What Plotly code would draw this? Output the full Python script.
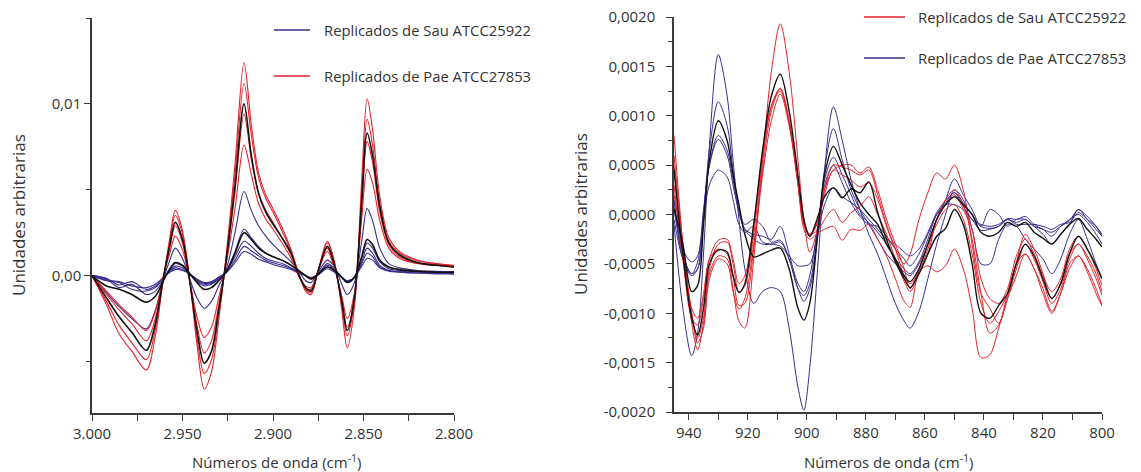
import plotly.graph_objects as go

# ---------------- left panel: 3000-2800 cm-1 (blue = Sau, red = Pae) ----------------
wn_left = [3000, 2992, 2985, 2978, 2970, 2965, 2961, 2957, 2954, 2950, 2946, 2942, 2938, 2934,
           2930, 2926, 2921, 2916, 2912, 2908, 2904, 2900, 2895, 2890, 2886, 2882, 2879, 2875,
           2870, 2866, 2862, 2859, 2855, 2851, 2848, 2845, 2841, 2836, 2830, 2820, 2810, 2800]

pae_l1 = [0, -1.7e-3, -3.4e-3, -4.4e-3, -5.5e-3, -3.5e-3, -0.5e-3, 2.2e-3, 3.8e-3, 2.6e-3, -0.3e-3, -4.0e-3, -6.6e-3, -5.6e-3,
          -2.6e-3, 1.0e-3, 6.5e-3, 12.4e-3, 8.8e-3, 6.0e-3, 4.7e-3, 3.9e-3, 2.8e-3, 1.5e-3, 0.2e-3, -0.9e-3, -1.1e-3, 0.3e-3,
          2.0e-3, 0.8e-3, -2.0e-3, -4.2e-3, -1.8e-3, 5.5e-3, 10.3e-3, 8.5e-3, 4.6e-3, 2.2e-3, 1.4e-3, 0.9e-3, 0.7e-3, 0.6e-3]
pae_l2 = [0, -1.5e-3, -2.9e-3, -3.9e-3, -4.9e-3, -3.1e-3, -0.5e-3, 2.0e-3, 3.5e-3, 2.4e-3, -0.3e-3, -3.6e-3, -5.7e-3, -4.9e-3,
          -2.3e-3, 0.9e-3, 5.9e-3, 11.2e-3, 8.2e-3, 5.7e-3, 4.5e-3, 3.7e-3, 2.6e-3, 1.4e-3, 0.1e-3, -0.8e-3, -1.0e-3, 0.3e-3,
          1.9e-3, 0.7e-3, -1.7e-3, -3.5e-3, -1.5e-3, 4.8e-3, 9.1e-3, 7.6e-3, 4.2e-3, 2.0e-3, 1.3e-3, 0.85e-3, 0.7e-3, 0.55e-3]
pae_l3 = [0, -1.1e-3, -2.0e-3, -2.8e-3, -3.8e-3, -2.5e-3, -0.3e-3, 1.6e-3, 2.9e-3, 1.9e-3, -0.3e-3, -2.9e-3, -4.5e-3, -3.8e-3,
          -1.7e-3, 0.7e-3, 4.9e-3, 9.4e-3, 6.8e-3, 4.8e-3, 3.8e-3, 3.1e-3, 2.2e-3, 1.2e-3, 0.1e-3, -0.7e-3, -0.8e-3, 0.3e-3,
          1.6e-3, 0.5e-3, -1.4e-3, -3.0e-3, -1.2e-3, 4.0e-3, 7.8e-3, 6.6e-3, 3.7e-3, 1.8e-3, 1.1e-3, 0.75e-3, 0.65e-3, 0.55e-3]
pae_l4 = [0, -0.9e-3, -1.7e-3, -2.4e-3, -3.2e-3, -2.1e-3, -0.2e-3, 1.3e-3, 2.3e-3, 1.5e-3, -0.3e-3, -2.4e-3, -3.6e-3, -3.0e-3,
          -1.3e-3, 0.6e-3, 3.9e-3, 7.6e-3, 5.9e-3, 4.2e-3, 3.3e-3, 2.7e-3, 1.9e-3, 1.0e-3, 0.0, -0.6e-3, -0.7e-3, 0.3e-3,
          1.4e-3, 0.4e-3, -1.2e-3, -2.5e-3, -1.0e-3, 3.3e-3, 6.2e-3, 5.4e-3, 3.2e-3, 1.6e-3, 1.0e-3, 0.7e-3, 0.6e-3, 0.5e-3]
pae_l_media = [0, -1.3e-3, -2.4e-3, -3.3e-3, -4.35e-3, -2.8e-3, -0.4e-3, 1.8e-3, 3.1e-3, 2.1e-3, -0.3e-3, -3.2e-3, -5.1e-3, -4.4e-3,
               -2.0e-3, 0.8e-3, 5.2e-3, 10.0e-3, 7.0e-3, 4.8e-3, 3.7e-3, 3.0e-3, 2.2e-3, 1.3e-3, 0.1e-3, -0.7e-3, -0.9e-3, 0.3e-3,
               1.7e-3, 0.6e-3, -1.5e-3, -3.2e-3, -1.3e-3, 4.3e-3, 8.3e-3, 7.0e-3, 4.0e-3, 1.9e-3, 1.2e-3, 0.75e-3, 0.6e-3, 0.5e-3]

sau_l1 = [0, -1.0e-3, -1.8e-3, -2.5e-3, -3.1e-3, -2.0e-3, -0.4e-3, 0.9e-3, 1.6e-3, 1.0e-3, -0.2e-3, -1.3e-3, -1.9e-3, -1.5e-3,
          -0.6e-3, 0.3e-3, 2.5e-3, 4.9e-3, 3.8e-3, 2.9e-3, 2.3e-3, 1.8e-3, 1.3e-3, 0.8e-3, 0.3e-3, -0.3e-3, -0.4e-3, 0.2e-3,
          0.9e-3, 0.5e-3, -0.5e-3, -1.1e-3, -0.4e-3, 2.0e-3, 3.9e-3, 3.2e-3, 1.6e-3, 0.7e-3, 0.45e-3, 0.3e-3, 0.25e-3, 0.2e-3]
sau_l2 = [0, -0.2e-3, -0.7e-3, -0.5e-3, -1.1e-3, -0.9e-3, -0.3e-3, 0.35e-3, 0.7e-3, 0.55e-3, 0.1e-3, -0.35e-3, -0.6e-3, -0.5e-3,
          -0.2e-3, 0.2e-3, 1.4e-3, 2.7e-3, 2.2e-3, 1.7e-3, 1.3e-3, 1.1e-3, 0.9e-3, 0.6e-3, 0.3e-3, 0.0, -0.2e-3, 0.1e-3,
          0.7e-3, 0.4e-3, -0.1e-3, -0.4e-3, -0.1e-3, 1.0e-3, 1.9e-3, 1.6e-3, 0.8e-3, 0.4e-3, 0.3e-3, 0.25e-3, 0.2e-3, 0.2e-3]
sau_l3 = [0, -0.3e-3, -0.4e-3, -0.8e-3, -0.9e-3, -0.7e-3, -0.2e-3, 0.3e-3, 0.55e-3, 0.45e-3, 0.1e-3, -0.3e-3, -0.5e-3, -0.45e-3,
          -0.15e-3, 0.2e-3, 1.1e-3, 2.0e-3, 1.7e-3, 1.3e-3, 1.0e-3, 0.85e-3, 0.7e-3, 0.45e-3, 0.2e-3, 0.0, -0.15e-3, 0.05e-3,
          0.6e-3, 0.3e-3, -0.1e-3, -0.35e-3, -0.1e-3, 0.8e-3, 1.6e-3, 1.3e-3, 0.6e-3, 0.3e-3, 0.25e-3, 0.2e-3, 0.15e-3, 0.15e-3]
sau_l4 = [0, -0.15e-3, -0.55e-3, -0.35e-3, -0.8e-3, -0.6e-3, -0.2e-3, 0.25e-3, 0.45e-3, 0.35e-3, 0.1e-3, -0.25e-3, -0.45e-3, -0.4e-3,
          -0.1e-3, 0.15e-3, 0.9e-3, 1.7e-3, 1.45e-3, 1.15e-3, 0.9e-3, 0.75e-3, 0.6e-3, 0.4e-3, 0.2e-3, 0.0, -0.15e-3, 0.05e-3,
          0.5e-3, 0.25e-3, -0.1e-3, -0.3e-3, -0.1e-3, 0.7e-3, 1.3e-3, 1.1e-3, 0.5e-3, 0.3e-3, 0.2e-3, 0.15e-3, 0.15e-3, 0.1e-3]
sau_l5 = [0, -0.25e-3, -0.35e-3, -0.6e-3, -0.7e-3, -0.5e-3, -0.15e-3, 0.2e-3, 0.35e-3, 0.3e-3, 0.1e-3, -0.2e-3, -0.4e-3, -0.35e-3,
          -0.1e-3, 0.15e-3, 0.75e-3, 1.4e-3, 1.25e-3, 0.95e-3, 0.8e-3, 0.65e-3, 0.5e-3, 0.35e-3, 0.15e-3, 0.0, -0.1e-3, 0.05e-3,
          0.4e-3, 0.2e-3, -0.1e-3, -0.3e-3, -0.1e-3, 0.55e-3, 1.0e-3, 0.9e-3, 0.45e-3, 0.25e-3, 0.2e-3, 0.15e-3, 0.1e-3, 0.1e-3]
sau_l_media = [0, -0.6e-3, -0.8e-3, -1.1e-3, -1.55e-3, -1.2e-3, -0.4e-3, 0.4e-3, 0.76e-3, 0.6e-3, 0.1e-3, -0.4e-3, -0.8e-3, -0.7e-3,
               -0.3e-3, 0.2e-3, 1.3e-3, 2.5e-3, 2.1e-3, 1.6e-3, 1.3e-3, 1.1e-3, 0.9e-3, 0.6e-3, 0.3e-3, 0.0, -0.2e-3, 0.1e-3,
               0.5e-3, 0.3e-3, -0.1e-3, -0.4e-3, -0.1e-3, 1.1e-3, 2.1e-3, 1.8e-3, 0.9e-3, 0.5e-3, 0.35e-3, 0.25e-3, 0.2e-3, 0.2e-3]

# ---------------- right panel: 945-800 cm-1 (red = Sau, blue = Pae) ----------------
wn_right = [945, 942, 939, 937, 935, 933, 930, 927, 925, 923, 921, 918, 915, 912, 909, 906, 903, 901,
            899, 896, 894, 891, 888, 885, 882, 879, 876, 873, 870, 867, 865, 862, 859, 856, 853, 850,
            847, 844, 841, 838, 835, 832, 829, 826, 823, 820, 817, 814, 811, 808, 805, 802, 800]

sau_r1 = [0.80e-3, -0.30e-3, -1.10e-3, -1.37e-3, -1.10e-3, -0.60e-3, -0.42e-3, -0.45e-3, -0.75e-3, -1.08e-3, -1.15e-3,
          -0.45e-3, 0.55e-3, 1.45e-3, 1.93e-3, 1.45e-3, 0.55e-3, -0.05e-3, -0.38e-3, -0.10e-3, 0.25e-3, 0.45e-3, 0.50e-3,
          0.50e-3, 0.42e-3, 0.48e-3, 0.25e-3, -0.05e-3, -0.30e-3, -0.55e-3, -0.75e-3, -0.55e-3, -0.30e-3, -0.10e-3, 0.05e-3,
          0.10e-3, -0.05e-3, -0.40e-3, -0.90e-3, -1.10e-3, -0.98e-3, -0.80e-3, -0.50e-3, -0.40e-3, -0.55e-3, -0.75e-3,
          -0.98e-3, -0.80e-3, -0.50e-3, -0.42e-3, -0.58e-3, -0.80e-3, -0.93e-3]
sau_r2 = [0.50e-3, -0.40e-3, -1.00e-3, -1.25e-3, -1.05e-3, -0.55e-3, -0.30e-3, -0.28e-3, -0.50e-3, -0.78e-3, -0.72e-3,
          -0.20e-3, 0.55e-3, 1.10e-3, 1.28e-3, 0.95e-3, 0.35e-3, -0.10e-3, -0.22e-3, -0.05e-3, 0.25e-3, 0.50e-3, 0.48e-3,
          0.45e-3, 0.40e-3, 0.45e-3, 0.20e-3, -0.10e-3, -0.35e-3, -0.62e-3, -0.70e-3, -0.58e-3, -0.35e-3, -0.05e-3, 0.10e-3,
          0.20e-3, 0.05e-3, -0.15e-3, -0.65e-3, -0.85e-3, -0.90e-3, -0.75e-3, -0.42e-3, -0.25e-3, -0.40e-3, -0.62e-3,
          -0.78e-3, -0.65e-3, -0.35e-3, -0.22e-3, -0.35e-3, -0.55e-3, -0.72e-3]
sau_r3 = [0.30e-3, -0.45e-3, -1.05e-3, -1.12e-3, -0.85e-3, -0.45e-3, -0.26e-3, -0.25e-3, -0.45e-3, -0.70e-3, -0.62e-3,
          -0.10e-3, 0.60e-3, 1.10e-3, 1.25e-3, 0.92e-3, 0.35e-3, -0.08e-3, -0.20e-3, -0.05e-3, 0.20e-3, 0.45e-3, 0.40e-3,
          0.35e-3, 0.28e-3, 0.32e-3, 0.15e-3, -0.12e-3, -0.35e-3, -0.50e-3, -0.40e-3, -0.05e-3, 0.22e-3, 0.42e-3, 0.36e-3,
          0.50e-3, 0.25e-3, -0.30e-3, -0.80e-3, -0.95e-3, -1.10e-3, -0.85e-3, -0.55e-3, -0.30e-3, -0.45e-3, -0.68e-3,
          -0.90e-3, -0.75e-3, -0.45e-3, -0.30e-3, -0.42e-3, -0.60e-3, -0.78e-3]
sau_r4 = [0.20e-3, -0.35e-3, -0.95e-3, -1.05e-3, -0.80e-3, -0.45e-3, -0.35e-3, -0.40e-3, -0.62e-3, -0.92e-3, -0.90e-3,
          -0.35e-3, 0.40e-3, 0.95e-3, 1.22e-3, 0.90e-3, 0.30e-3, -0.10e-3, -0.20e-3, -0.15e-3, -0.05e-3, 0.05e-3, -0.08e-3,
          0.02e-3, 0.08e-3, 0.18e-3, 0.00, -0.20e-3, -0.45e-3, -0.68e-3, -0.78e-3, -0.60e-3, -0.40e-3, -0.05e-3, 0.15e-3,
          0.25e-3, 0.10e-3, -0.25e-3, -0.80e-3, -1.20e-3, -1.12e-3, -0.80e-3, -0.48e-3, -0.20e-3, -0.35e-3, -0.60e-3,
          -0.85e-3, -0.70e-3, -0.40e-3, -0.30e-3, -0.45e-3, -0.65e-3, -0.82e-3]
sau_r5 = [0.60e-3, -0.30e-3, -1.00e-3, -1.30e-3, -1.15e-3, -0.65e-3, -0.45e-3, -0.50e-3, -0.78e-3, -0.96e-3, -0.85e-3,
          -0.30e-3, 0.45e-3, 1.05e-3, 1.27e-3, 0.95e-3, 0.30e-3, -0.15e-3, -0.25e-3, -0.18e-3, -0.15e-3, -0.12e-3, -0.26e-3,
          -0.15e-3, -0.16e-3, -0.10e-3, -0.25e-3, -0.42e-3, -0.65e-3, -0.88e-3, -0.94e-3, -0.58e-3, -0.52e-3, -0.58e-3, -0.52e-3,
          -0.35e-3, -0.55e-3, -0.95e-3, -1.45e-3, -1.42e-3, -1.15e-3, -0.85e-3, -0.62e-3, -0.40e-3, -0.55e-3, -0.80e-3,
          -1.00e-3, -0.80e-3, -0.55e-3, -0.42e-3, -0.55e-3, -0.75e-3, -0.92e-3]
sau_r_media = [0.46e-3, -0.40e-3, -1.05e-3, -1.22e-3, -0.95e-3, -0.50e-3, -0.36e-3, -0.38e-3, -0.62e-3, -0.79e-3, -0.70e-3,
               -0.10e-3, 0.65e-3, 1.20e-3, 1.42e-3, 1.05e-3, 0.40e-3, -0.05e-3, -0.22e-3, 0.00, 0.18e-3, 0.27e-3, 0.17e-3,
               0.26e-3, 0.22e-3, 0.33e-3, 0.02e-3, -0.25e-3, -0.48e-3, -0.65e-3, -0.74e-3, -0.60e-3, -0.40e-3, -0.22e-3, -0.14e-3,
               0.05e-3, -0.10e-3, -0.50e-3, -1.00e-3, -1.05e-3, -0.92e-3, -0.80e-3, -0.50e-3, -0.30e-3, -0.42e-3, -0.65e-3,
               -0.85e-3, -0.70e-3, -0.40e-3, -0.22e-3, -0.35e-3, -0.52e-3, -0.65e-3]

pae_r1 = [-0.10e-3, -0.95e-3, -1.43e-3, -1.20e-3, -0.40e-3, 0.70e-3, 1.62e-3, 1.20e-3, 0.55e-3, -0.05e-3, -0.55e-3,
          -0.90e-3, -0.78e-3, -0.74e-3, -0.78e-3, -1.15e-3, -1.75e-3, -1.98e-3, -1.55e-3, -0.40e-3, 0.45e-3, 1.09e-3, 0.75e-3,
          0.35e-3, 0.05e-3, -0.20e-3, -0.40e-3, -0.65e-3, -0.90e-3, -1.08e-3, -1.15e-3, -0.98e-3, -0.65e-3, -0.30e-3, 0.00,
          0.25e-3, 0.15e-3, -0.15e-3, -0.50e-3, -0.50e-3, -0.25e-3, -0.10e-3, -0.12e-3, -0.25e-3, -0.35e-3, -0.45e-3,
          -0.60e-3, -0.45e-3, -0.20e-3, -0.05e-3, -0.25e-3, -0.50e-3, -0.65e-3]
pae_r2 = [0.15e-3, -0.45e-3, -0.62e-3, -0.55e-3, 0.00, 0.65e-3, 1.14e-3, 0.90e-3, 0.45e-3, 0.05e-3, -0.15e-3,
          -0.25e-3, -0.30e-3, -0.30e-3, -0.28e-3, -0.45e-3, -0.75e-3, -0.88e-3, -0.75e-3, -0.15e-3, 0.45e-3, 0.87e-3, 0.55e-3,
          0.25e-3, 0.05e-3, -0.10e-3, -0.25e-3, -0.40e-3, -0.50e-3, -0.58e-3, -0.62e-3, -0.50e-3, -0.30e-3, -0.05e-3, 0.15e-3,
          0.36e-3, 0.20e-3, 0.05e-3, -0.12e-3, 0.05e-3, 0.00, -0.12e-3, -0.05e-3, -0.05e-3, -0.12e-3, -0.20e-3,
          -0.30e-3, -0.20e-3, -0.10e-3, 0.05e-3, -0.05e-3, -0.15e-3, -0.22e-3]
pae_r3 = [0.05e-3, -0.40e-3, -0.60e-3, -0.55e-3, 0.00, 0.50e-3, 0.80e-3, 0.65e-3, 0.35e-3, 0.05e-3, -0.10e-3,
          -0.05e-3, -0.12e-3, -0.28e-3, -0.26e-3, -0.45e-3, -0.75e-3, -0.82e-3, -0.70e-3, -0.10e-3, 0.35e-3, 0.58e-3, 0.40e-3,
          0.20e-3, 0.00, -0.08e-3, -0.18e-3, -0.30e-3, -0.45e-3, -0.55e-3, -0.60e-3, -0.48e-3, -0.25e-3, 0.00, 0.12e-3,
          0.22e-3, 0.08e-3, -0.05e-3, -0.16e-3, -0.15e-3, -0.12e-3, -0.05e-3, -0.08e-3, -0.05e-3, -0.12e-3, -0.15e-3,
          -0.22e-3, -0.12e-3, -0.05e-3, 0.00, -0.08e-3, -0.20e-3, -0.30e-3]
pae_r4 = [0.15e-3, -0.35e-3, -0.48e-3, -0.42e-3, 0.05e-3, 0.50e-3, 0.76e-3, 0.60e-3, 0.30e-3, 0.02e-3, -0.15e-3,
          -0.20e-3, -0.22e-3, -0.25e-3, -0.12e-3, -0.40e-3, -0.70e-3, -0.78e-3, -0.62e-3, -0.05e-3, 0.30e-3, 0.50e-3, 0.32e-3,
          0.12e-3, -0.02e-3, -0.10e-3, -0.12e-3, -0.22e-3, -0.35e-3, -0.45e-3, -0.52e-3, -0.40e-3, -0.20e-3, 0.02e-3, 0.14e-3,
          0.22e-3, 0.12e-3, 0.00, -0.12e-3, -0.14e-3, -0.12e-3, -0.04e-3, -0.05e-3, -0.02e-3, -0.10e-3, -0.15e-3,
          -0.18e-3, -0.12e-3, -0.06e-3, 0.05e-3, -0.02e-3, -0.12e-3, -0.22e-3]
pae_r5 = [-0.05e-3, -0.45e-3, -0.60e-3, -0.48e-3, -0.05e-3, 0.30e-3, 0.45e-3, 0.38e-3, 0.15e-3, -0.10e-3, -0.18e-3,
          -0.12e-3, -0.28e-3, -0.30e-3, -0.32e-3, -0.42e-3, -0.52e-3, -0.52e-3, -0.50e-3, -0.15e-3, 0.10e-3, 0.27e-3, 0.18e-3,
          0.12e-3, 0.05e-3, -0.05e-3, -0.15e-3, -0.25e-3, -0.30e-3, -0.38e-3, -0.42e-3, -0.35e-3, -0.18e-3, 0.00, 0.10e-3,
          0.10e-3, 0.05e-3, -0.05e-3, -0.10e-3, -0.12e-3, -0.10e-3, -0.05e-3, -0.10e-3, -0.10e-3, -0.10e-3, -0.12e-3,
          -0.15e-3, -0.10e-3, -0.08e-3, 0.02e-3, -0.05e-3, -0.12e-3, -0.20e-3]
pae_r_media = [0.06e-3, -0.30e-3, -0.78e-3, -0.72e-3, -0.10e-3, 0.55e-3, 0.95e-3, 0.75e-3, 0.40e-3, 0.10e-3, -0.20e-3,
               -0.43e-3, -0.40e-3, -0.36e-3, -0.34e-3, -0.55e-3, -0.95e-3, -1.07e-3, -0.90e-3, -0.10e-3, 0.40e-3, 0.69e-3, 0.50e-3,
               0.30e-3, 0.12e-3, 0.00, -0.10e-3, -0.30e-3, -0.45e-3, -0.62e-3, -0.68e-3, -0.55e-3, -0.30e-3, -0.05e-3, 0.10e-3,
               0.18e-3, 0.10e-3, 0.00, -0.18e-3, -0.22e-3, -0.18e-3, -0.08e-3, -0.12e-3, -0.08e-3, -0.18e-3, -0.24e-3,
               -0.30e-3, -0.20e-3, -0.10e-3, -0.04e-3, -0.15e-3, -0.25e-3, -0.33e-3]

# tick labels of the right y axis (hyphen minus, decimal comma)
tick_right_vals = [-0.002, -0.0015, -0.001, -0.0005, 0, 0.0005, 0.001, 0.0015, 0.002]
tick_right_text = ["-0,0020", "-0,0015", "-0,0010", "-0,0005", "0,0000", "0,0005", "0,0010", "0,0015", "0,0020"]

legend_sau = "Replicados de Sau ATCC25922"
legend_pae = "Replicados de Pae ATCC27853"

BLUE = "#3a2c8c"
RED = "#e3222b"
BLACK = "#111111"
AXIS = "#3a3a3a"
TEXT = "#333333"

# the page body keeps its default 8px margin, so the figure starts at (8, 8) of the window
OFF = 8
W, H = 1141 - OFF, 472 - OFF

fig = go.Figure()


def add_line(x, y, color, width, xa, ya):
    fig.add_trace(go.Scatter(x=x, y=y, mode="lines", xaxis=xa, yaxis=ya, showlegend=False,
                             hoverinfo="skip",
                             line=dict(color=color, width=width, shape="spline", smoothing=0.9)))


for s in [sau_l1, sau_l2, sau_l3, sau_l4, sau_l5]:
    add_line(wn_left, s, BLUE, 1.1, "x", "y")
for s in [pae_l1, pae_l2, pae_l3, pae_l4]:
    add_line(wn_left, s, RED, 1.1, "x", "y")
for s in [sau_l_media, pae_l_media]:
    add_line(wn_left, s, BLACK, 1.6, "x", "y")

for s in [pae_r1, pae_r2, pae_r3, pae_r4, pae_r5]:
    add_line(wn_right, s, BLUE, 1.0, "x2", "y2")
for s in [sau_r1, sau_r2, sau_r3, sau_r4, sau_r5]:
    add_line(wn_right, s, RED, 1.0, "x2", "y2")
for s in [pae_r_media, sau_r_media]:
    add_line(wn_right, s, BLACK, 1.4, "x2", "y2")


def dom_x(a, b):
    return [(a - OFF) / W, (b - OFF) / W]


def dom_y(top, bottom):
    return [1 - (bottom - OFF) / H, 1 - (top - OFF) / H]


axis_common = dict(showline=True, linecolor=AXIS, linewidth=1.5, ticks="outside", ticklen=6,
                   tickwidth=1.2, tickcolor=AXIS, showgrid=False, zeroline=False, automargin=False,
                   ticklabeloverflow="allow", tickfont=dict(size=15, color=TEXT))

fig.update_layout(
    width=W, height=H, margin=dict(l=0, r=0, t=0, b=0, autoexpand=False),
    paper_bgcolor="white", plot_bgcolor="white",
    font=dict(family="Open Sans", size=15, color=TEXT),
    separators=",.",
    showlegend=False,
    xaxis=dict(domain=dom_x(92, 454), range=[3000, 2800], anchor="y",
               tickmode="linear", tick0=0, dtick=50, tickformat=",d",
               minor=dict(tick0=0, dtick=25, ticks="outside", ticklen=6, tickcolor=AXIS, tickwidth=1.2),
               **axis_common),
    yaxis=dict(domain=dom_y(18, 413), range=[-0.008, 0.015], anchor="x",
               tickmode="linear", tick0=0, dtick=0.01, tickformat=".2f",
               minor=dict(tick0=0, dtick=0.005, ticks="outside", ticklen=4, tickcolor=AXIS, tickwidth=1.2),
               **axis_common),
    xaxis2=dict(domain=dom_x(674, 1102), range=[945, 800], anchor="y2",
                tickmode="linear", tick0=0, dtick=20,
                minor=dict(tick0=0, dtick=10, ticks="outside", ticklen=6, tickcolor=AXIS, tickwidth=1.2),
                **axis_common),
    yaxis2=dict(domain=dom_y(17, 412), range=[-0.002, 0.002], anchor="x2",
                tickmode="array", tickvals=tick_right_vals, ticktext=tick_right_text,
                ticklabelstandoff=8,
                minor=dict(tick0=0, dtick=0.00025, ticks="outside", ticklen=4, tickcolor=AXIS, tickwidth=1.2),
                **axis_common),
)


def px(x, y):
    return (x - OFF) / W, 1 - (y - OFF) / H


annotations = []
shapes = []


def text(x, y, s, size, anchor="center", angle=0):
    ax, ay = px(x, y)
    annotations.append(dict(x=ax, y=ay, xref="paper", yref="paper", text=s, showarrow=False,
                            xanchor=anchor, yanchor="middle", textangle=angle,
                            font=dict(size=size, color=TEXT)))


def legend_line(x0, x1, y, color):
    a0, b0 = px(x0, y)
    a1, _ = px(x1, y)
    shapes.append(dict(type="line", xref="paper", yref="paper", x0=a0, x1=a1, y0=b0, y1=b0,
                       line=dict(color=color, width=1.6)))


# axis titles
text(19, 215, "Unidades arbitrarias", 17, angle=-90)
text(580, 214, "Unidades arbitrarias", 17, angle=-90)
text(276, 461, "Números de onda (cm<sup>-1</sup>)", 15)
text(888, 461, "Números de onda (cm<sup>-1</sup>)", 15)

# legends
legend_line(274, 310, 30, BLUE)
text(322, 30, legend_sau, 14.8, anchor="left")
legend_line(274, 310, 76, RED)
text(322, 76, legend_pae, 14.8, anchor="left")

legend_line(864, 905, 17, RED)
text(916, 17, legend_sau, 14.9, anchor="left")
legend_line(864, 905, 58, BLUE)
text(916, 58, legend_pae, 14.9, anchor="left")

fig.update_layout(annotations=annotations, shapes=shapes)

fig.write_html("out.html")
